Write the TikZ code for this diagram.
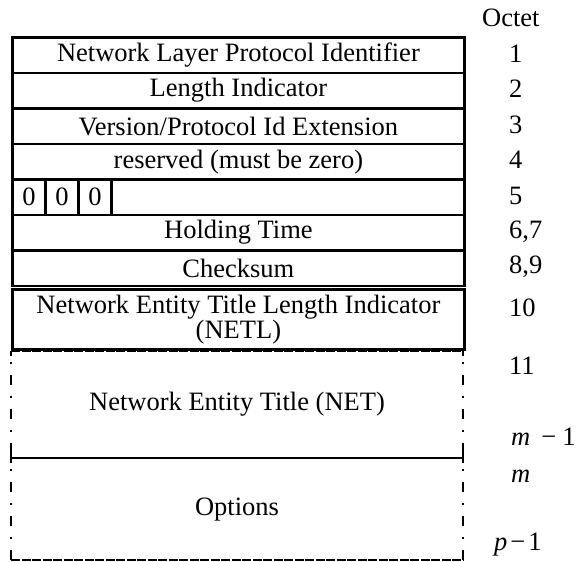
\documentclass[tikz,border=0pt]{standalone}
\usepackage{fontspec}
\setmainfont{Liberation Serif}
\begin{document}
\begin{tikzpicture}[x=1pt,y=-1pt,
  font=\fontsize{26.5}{25}\selectfont,
  row/.style={draw, line width=2.8pt, minimum width=452pt, minimum height=35.5pt, inner sep=0pt, anchor=north west},
  bitcell/.style={draw, line width=2.8pt, minimum width=33pt, minimum height=35.5pt, inner sep=0pt, anchor=north west},
  octet/.style={anchor=west, inner sep=0pt},
  sidedash/.style={line width=2.4pt, dash pattern=on 2pt off 11pt on 10pt off 11pt, dash phase=23pt},
  edgedash/.style={line width=2.4pt, dash pattern=on 9pt off 1.5pt},
  tick/.style={line width=1.4pt}]
\useasboundingbox (0,0) rectangle (581,562);
% fixed rows
\node[row] (r1) at (11,36) {Network Layer Protocol Identifier};
\node[row] (r2) at (11,71.5) {Length Indicator};
\node[row] (r3) at (11,107) {Version/Protocol Id Extension};
\node[row] (r4) at (11,142.5) {reserved (must be zero)};
\node[row] (r5) at (11,178) {};
\node[bitcell] (b1) at (11,178) {0};
\node[bitcell] (b2) at (44,178) {0};
\node[bitcell] (b3) at (77,178) {0};
\node[row] (r6) at (11,213.5) {Holding Time};
\node[row] (r7) at (11,249) {Checksum};
\node[row, minimum height=60pt, align=center] (r8) at (11,288)
  {Network Entity Title Length Indicator\\(NETL)};
% variable parts
\coordinate (nt1) at (11,350.5);
\coordinate (nt2) at (463,350.5);
\coordinate (nm1) at (11,458);
\coordinate (nm2) at (463,458);
\coordinate (nb1) at (11,560);
\coordinate (nb2) at (463,560);
\draw[edgedash] (nt1) -- (nt2);
\draw[sidedash] (nt1) -- (nm1);
\draw[sidedash] (nt2) -- (nm2);
\draw[line width=2.8pt] (nm1) -- (nm2);
\draw[tick] (nt1) -- ++(0,5);
\draw[tick] (nt2) -- ++(0,5);
\draw[tick] ([yshift=-5pt]nm1) -- ([yshift=5pt]nm1);
\draw[tick] ([yshift=-5pt]nm2) -- ([yshift=5pt]nm2);
\draw[sidedash] (nm1) -- (nb1);
\draw[sidedash] (nm2) -- (nb2);
\draw[tick] (nb1) -- ++(0,-7);
\draw[tick] (nb2) -- ++(0,-7);
\draw[edgedash] (nb1) -- (nb2);
\node (net) at (237,404) {Network Entity Title (NET)};
\node (opt) at (237,510) {Options};
% octet labels
\node[octet] (oc) at (482,18) {Octet};
\node[octet] (o1) at (509,53.5) {1};
\node[octet] (o2) at (509,89) {2};
\node[octet] (o3) at (509,124.5) {3};
\node[octet] (o4) at (509,160) {4};
\node[octet] (o5) at (509,196) {5};
\node[octet] (o6) at (509,231.5) {6,7};
\node[octet] (o7) at (509,267) {8,9};
\node[octet] (o8) at (509,308) {10};
\node[octet] (o9) at (509,366) {11};
\node[octet] (o10) at (511,437) {\textit{m}\hspace{11pt}−\hspace{6pt}1};
\node[octet] (o11) at (511,476) {\textit{m}};
\node[octet] (o12) at (494,545) {\textit{p}\hspace{3pt}−\hspace{3pt}1};
\end{tikzpicture}
\end{document}
